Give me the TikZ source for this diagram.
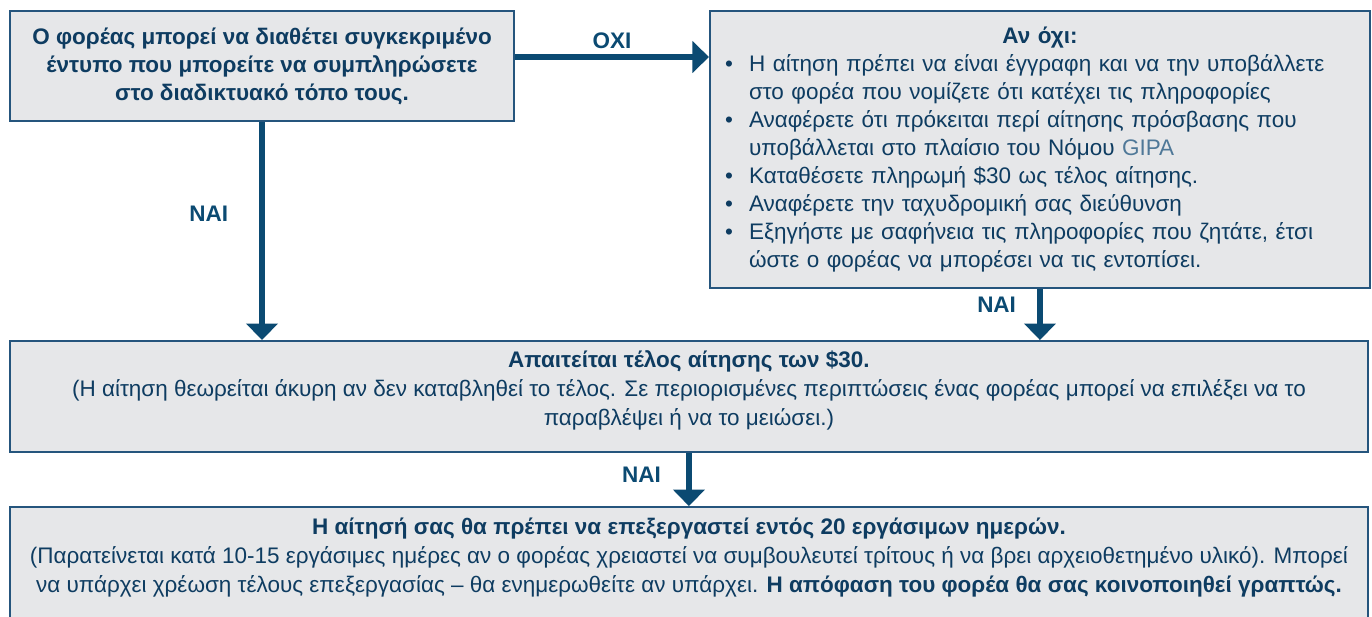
\documentclass[tikz,border=0pt]{standalone}
\usepackage{fontspec}
\setmainfont{Liberation Sans}
\usepackage{tikz}
\usetikzlibrary{positioning,arrows.meta}

\definecolor{boxfill}{HTML}{E6E7E9}
\definecolor{boxline}{HTML}{25557D}
\definecolor{arrowblue}{HTML}{0B4A72}
\definecolor{textblue}{HTML}{0E3C61}
\definecolor{lightblue}{HTML}{4F7898}

\newcommand{\itemdot}{\makebox[0.48cm][l]{•}}
\newcommand{\itemgap}{\hspace*{0.48cm}}

\begin{document}
\begin{tikzpicture}[
		x=0.02cm, y=-0.02cm
		,box/.style={draw=boxline, line width=1.2pt, fill=boxfill, text=textblue, inner sep=0pt, font=\fontsize{12.8pt}{15.9pt}\selectfont}
		,boxbold/.style={box, font=\fontsize{12.8pt}{15.9pt}\selectfont\bfseries}
		,wide/.style={box, minimum width=27.16cm, align=center, font=\fontsize{12.8pt}{16.4pt}\selectfont}
		,arr/.style={draw=arrowblue, line width=3.4pt, -{Triangle[width=0.62cm,length=0.33cm]}}
		,lbl/.style={text=arrowblue, inner sep=0pt, font=\fontsize{12.8pt}{14pt}\selectfont\bfseries}
	]
		\useasboundingbox (0,0) rectangle (1372,616);

		\node[boxbold, anchor=north west, minimum width=10.08cm, minimum height=2.2cm, align=center] (ask) at (9,10)
			{Ο φορέας μπορεί να διαθέτει συγκεκριμένο\\έντυπο που μπορείτε να συμπληρώσετε\\στο διαδικτυακό τόπο τους.};

		\node[box, right=3.88cm of ask.north east, anchor=north west, minimum width=13.2cm, minimum height=5.54cm, inner xsep=0.3cm, text width=12.6cm] (ifnot) {%
			{\centering\bfseries Αν όχι:\par}
			\raggedright
			\itemdot Η αίτηση πρέπει να είναι έγγραφη και να την υποβάλλετε\par
			\itemgap στο φορέα που νομίζετε ότι κατέχει τις πληροφορίες\par
			\itemdot Αναφέρετε ότι πρόκειται περί αίτησης πρόσβασης που\par
			\itemgap υποβάλλεται στο πλαίσιο του Νόμου {\color{lightblue}GIPA}\par
			\itemdot Καταθέσετε πληρωμή \$30 ως τέλος αίτησης.\par
			\itemdot Αναφέρετε την ταχυδρομική σας διεύθυνση\par
			\itemdot Εξηγήστε με σαφήνεια τις πληροφορίες που ζητάτε, έτσι\par
			\itemgap ώστε ο φορέας να μπορέσει να τις εντοπίσει.\par};

		\node[wide, below=4.36cm of ask.south west, anchor=north west, minimum height=2.22cm, text depth=9.5pt] (fee)
			{{\bfseries Απαιτείται τέλος αίτησης των \$30.}\\
			(Η αίτηση θεωρείται άκυρη αν δεν καταβληθεί το τέλος. Σε περιορισμένες περιπτώσεις ένας φορέας μπορεί να επιλέξει να το\\
			παραβλέψει ή να το μειώσει.)};

		\node[wide, below=1.06cm of fee.south west, anchor=north west, inner ysep=0.22cm, text depth=3cm] (process)
			{{\bfseries Η αίτησή σας θα πρέπει να επεξεργαστεί εντός 20 εργάσιμων ημερών.}\\
			(Παρατείνεται κατά 10-15 εργάσιμες ημέρες αν ο φορέας χρειαστεί να συμβουλευτεί τρίτους ή να βρει αρχειοθετημένο υλικό). Μπορεί\\
			να υπάρχει χρέωση τέλους επεξεργασίας – θα ενημερωθείτε αν υπάρχει. {\bfseries Η απόφαση του φορέα θα σας κοινοποιηθεί γραπτώς.}};

		\draw[arr] (ask.east |- 0,57) -- node[lbl, above=0.1cm] {ΟΧΙ} (ifnot.west |- 0,57);
		\draw[arr] (ask.south) -- node[lbl, pos=0.42, left=0.62cm] {ΝΑΙ} (ask.south |- fee.north);
		\draw[arr] (ifnot.south) -- node[lbl, pos=0.31, left=0.42cm] {ΝΑΙ} (ifnot.south |- fee.north);
		\draw[arr] (fee.south) -- node[lbl, pos=0.4, left=0.5cm] {ΝΑΙ} (process.north);
	\end{tikzpicture}
\end{document}
